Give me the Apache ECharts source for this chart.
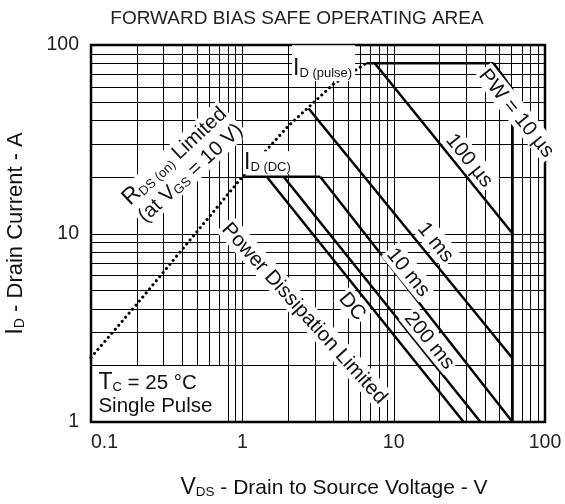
<!DOCTYPE html>
<html><head><meta charset="utf-8">
<script src="https://cdn.jsdelivr.net/npm/echarts@6/dist/echarts.min.js"></script>
<style>html,body{margin:0;padding:0;background:#fff}#c{width:565px;height:504px}</style>
</head><body><div id="c"></div>
<script>
// ---- axis / tick data ----
const xMin = 0.1, xMax = 100, yMin = 1, yMax = 100;
const xTickLabels = ['0.1', '1', '10', '100'];
const yTickLabels = ['1', '10', '100'];
const xGridValues = [0.2,0.3,0.4,0.5,0.6,0.7,0.8,0.9,1,2,3,4,5,6,7,8,9,10,20,30,40,50,60,70,80,90];
const yGridValues = [2,3,4,5,6,7,8,9,10,20,30,40,50,60,70,80,90];
const boxX = 0.8, boxY = 2;   // "Tc = 25 °C / Single Pulse" box corner

// ---- SOA boundary data ----
const rdsX = [0.1, 0.2, 0.5, 1, 2, 4, 6.6];
const rdsY = [2.2, 4.2, 10.2, 20, 37, 62, 80];
const pulseX = [6.6, 45.7],  pulseY = [80, 80];
const pw10X = [45.7, 61],    pw10Y = [80, 58];
const vdssX = [61, 61],      vdssY = [58, 1];
const us100X = [7.5, 61],    us100Y = [80, 10];
const ms1X = [2.74, 61],     ms1Y = [46, 2.18];
const idDcX = [1.0, 3.27],   idDcY = [20, 20];
const ms10X = [3.27, 61],    ms10Y = [20, 1];
const ms200X = [1.875, 37.5],ms200Y = [20, 1];
const dcX = [1.45, 29],      dcY = [20, 1];

const pts = (xs, ys) => xs.map((x, i) => [x, ys[i]]);
const FONT = 'Liberation Sans';
const TXT = '#111';
function mkRich(big, norm, sub, lh) {
  return {
    b: {fontSize: big, fontFamily: FONT, color: TXT, lineHeight: lh, verticalAlign: 'bottom'},
    n: {fontSize: norm, fontFamily: FONT, color: TXT, lineHeight: lh, verticalAlign: 'bottom'},
    s: {fontSize: sub, fontFamily: FONT, color: TXT, lineHeight: lh, verticalAlign: 'bottom'}
  };
}
const rich = mkRich(23, 20.5, 13, 23);
const richAxis = mkRich(23, 21, 13.5, 24);
const richYAxis = mkRich(24, 22, 14, 25);

// annotation texts (anchored in data space)
const annotations = [
  {t: '{b|I}{s|D (pulse)}', at: [2.13, 80], rot: 0, pos: 'right', pad: [12, 3, 1, 1]},
  {t: '{b|I}{s|D (DC)}', at: [1.01, 23.7], rot: 0, pos: 'right', pad: [0, 2, 0, 1]},
  {t: '{b|R}{s|DS (on)}{n| Limited}\n{n|(at V}{s|GS}{n| = 10 V)}', at: [0.4, 23.3], rot: 43, pos: 'inside', pad: [0, 2, 0, 2]},
  {t: '{n|Power Dissipation Limited}', at: [2.59, 3.79], rot: -48, pos: 'inside', pad: [0, 2, 0, 2]},
  {t: '{n|DC}', at: [5.38, 4.12], rot: -50, pos: 'inside', pad: [0, 2, 0, 2]},
  {t: '{n|200 ms}', at: [17.4, 2.72], rot: -51, pos: 'inside', pad: [0, 2, 0, 2]},
  {t: '{n|10 ms}', at: [12.6, 6.25], rot: -51, pos: 'inside', pad: [0, 2, 0, 2]},
  {t: '{n|1 ms}', at: [19.1, 9.02], rot: -51, pos: 'inside', pad: [0, 2, 0, 2]},
  {t: '{n|100 µs}', at: [31.9, 24.5], rot: -51, pos: 'inside', pad: [0, 2, 0, 2]},
  {t: '{n|PW = 10 µs}', at: [65.3, 43.6], rot: -51, pos: 'inside', pad: [0, 2, 0, 2]},
  {t: '{b|T}{s|C}{n| = 25 °C}\n{n|Single Pulse}', at: [0.112, 1.408], rot: 0, pos: 'right', pad: [0, 0, 0, 0], noBg: true}
];

function vLine(params, api) {
  const v = api.value(0), lo = api.value(1);
  const p1 = api.coord([v, lo]), p2 = api.coord([v, yMax]);
  const x = Math.round(p1[0]) + 0.5;
  return {type: 'line', silent: true, shape: {x1: x, y1: p1[1], x2: x, y2: p2[1]},
          style: {stroke: '#000', lineWidth: 1}};
}
function hLine(params, api) {
  const v = api.value(1);
  const p1 = api.coord([xMin, v]), p2 = api.coord([xMax, v]);
  const y = Math.round(p1[1]) + 0.5;
  return {type: 'line', silent: true, shape: {x1: p1[0], y1: y, x2: p2[0], y2: y},
          style: {stroke: '#000', lineWidth: 1}};
}

const soa = [
  pts(rdsX, rdsY), pts(pulseX, pulseY), pts(pw10X, pw10Y), pts(vdssX, vdssY),
  pts(us100X, us100Y), pts(ms1X, ms1Y), pts(idDcX, idDcY), pts(ms10X, ms10Y),
  pts(ms200X, ms200Y), pts(dcX, dcY)
];

const series = [
  {type: 'custom', z: 1, silent: true, renderItem: vLine,
   data: xGridValues.map(v => [v, v < boxX - 1e-9 ? boxY : yMin])},
  {type: 'custom', z: 1, silent: true, renderItem: hLine,
   data: yGridValues.map(v => [xMin, v])}
];
soa.forEach((d, i) => {
  series.push({
    type: 'line', z: 3, silent: true, data: d, showSymbol: false, symbol: 'none',
    lineStyle: i === 0
      ? {color: '#000', width: 3, type: [0.1, 5.2], cap: 'round'}
      : {color: '#000', width: 2.5, cap: 'butt', join: 'miter'}
  });
});
series.push({
  type: 'scatter', z: 10, silent: true, symbolSize: 0, clip: false,
  itemStyle: {opacity: 1},
  data: annotations.map(a => ({
    value: a.at,
    label: {
      show: true, formatter: a.t, rich: rich, rotate: a.rot,
      position: a.pos, distance: 0, opacity: 1, textBorderWidth: 0, color: TXT,
      align: a.pos === 'right' ? 'left' : 'center', verticalAlign: 'middle',
      backgroundColor: a.noBg ? 'transparent' : '#fff', padding: a.pad
    }
  }))
});

const chart = echarts.init(document.getElementById('c'), null, {renderer: 'canvas'});
chart.setOption({
  animation: false,
  backgroundColor: '#fff',
  title: {
    text: 'FORWARD BIAS SAFE OPERATING AREA', left: 292, top: 4, textAlign: 'center',
    textStyle: {fontFamily: FONT, fontSize: 19, fontWeight: 'normal', color: '#222'}
  },
  grid: {left: 91, top: 45, width: 454, height: 377, show: true,
         borderColor: '#000', borderWidth: 2.5, backgroundColor: '#fff',
         containLabel: false, outerBoundsMode: 'none'},
  xAxis: {
    type: 'log', logBase: 10, min: xMin, max: xMax, interval: 1,
    axisLine: {show: false}, axisTick: {show: false}, splitLine: {show: false},
    axisLabel: {
      fontFamily: FONT, fontSize: 19.5, color: '#222', margin: 11,
      alignMinLabel: 'left', showMinLabel: true, showMaxLabel: true,
      formatter: v => xTickLabels[Math.round(Math.log10(v) + 1)]
    },
    name: '{b|V}{s|DS}{n| - Drain to Source Voltage - V}', nameLocation: 'middle', nameGap: 53,
    nameTextStyle: {rich: richAxis, padding: [0, 0, 0, 32]}
  },
  yAxis: {
    type: 'log', logBase: 10, min: yMin, max: yMax, interval: 1,
    axisLine: {show: false}, axisTick: {show: false}, splitLine: {show: false},
    axisLabel: {
      fontFamily: FONT, fontSize: 19.5, color: '#222', margin: 12,
      showMinLabel: true, showMaxLabel: true,
      formatter: v => yTickLabels[Math.round(Math.log10(v))]
    },
    name: '{b|I}{s|D}{n| - Drain Current - A}', nameLocation: 'middle', nameGap: 64,
    nameTextStyle: {rich: richYAxis}
  },
  series: series
});
</script></body></html>
